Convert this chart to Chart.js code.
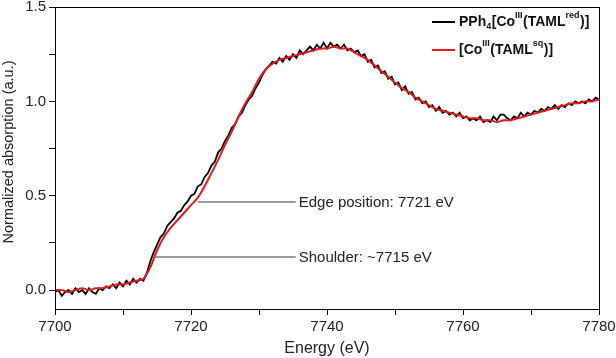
<!DOCTYPE html>
<html>
<head>
<meta charset="utf-8">
<script src="https://cdn.jsdelivr.net/npm/chart.js@4.4.1/dist/chart.umd.min.js"></script>
<style>
  body { margin: 0; background: #fff; }
</style>
</head>
<body>
<canvas id="xanes" width="616" height="358"></canvas>
<script>
// measured spectrum of PPh4[Co(TAMLred)], 0.5 eV grid from 7700 eV
const blackStart = 7700, blackStep = 0.5;
const blackValues = [
  -0.01, 0.00, -0.03, -0.01, 0.00, -0.02, 0.01, -0.01, 0.00, -0.02,
  0.01, -0.01, -0.02, 0.01, 0.00, 0.02, 0.01, 0.03, 0.01, 0.04,
  0.02, 0.05, 0.03, 0.06, 0.04, 0.06, 0.05, 0.09, 0.15, 0.20,
  0.24, 0.28, 0.30, 0.34, 0.36, 0.38, 0.41, 0.42, 0.45, 0.47,
  0.50, 0.51, 0.55, 0.56, 0.60, 0.62, 0.66, 0.68, 0.73, 0.75,
  0.79, 0.82, 0.86, 0.88, 0.92, 0.94, 0.98, 1.01, 1.03, 1.07,
  1.10, 1.14, 1.17, 1.19, 1.21, 1.20, 1.23, 1.21, 1.24, 1.22,
  1.25, 1.23, 1.27, 1.25, 1.27, 1.29, 1.27, 1.30, 1.28, 1.31,
  1.28, 1.31, 1.29, 1.30, 1.28, 1.30, 1.27, 1.28, 1.26, 1.27,
  1.24, 1.25, 1.21, 1.22, 1.18, 1.19, 1.15, 1.16, 1.12, 1.13,
  1.09, 1.10, 1.06, 1.08, 1.04, 1.05, 1.01, 1.02, 0.99, 1.00,
  0.97, 0.98, 0.95, 0.97, 0.94, 0.95, 0.93, 0.94, 0.92, 0.94,
  0.91, 0.92, 0.90, 0.91, 0.90, 0.92, 0.89, 0.90, 0.89, 0.92,
  0.90, 0.93, 0.93, 0.91, 0.90, 0.92, 0.91, 0.94, 0.92, 0.94,
  0.93, 0.95, 0.94, 0.96, 0.95, 0.97, 0.96, 0.98, 0.96, 0.98,
  0.97, 0.99, 0.98, 1.00, 0.99, 1.00, 0.99, 1.01, 1.00, 1.02,
  1.01
];

// [Co(TAMLsq)] spectrum, 1 eV grid from 7700 eV
const redStart = 7700, redStep = 1;
const redValues = [
  0.00, 0.00, -0.01, 0.00, 0.01, 0.00, 0.01, 0.01, 0.02, 0.03,
  0.03, 0.04, 0.05, 0.06, 0.12, 0.21, 0.28, 0.33, 0.37, 0.41,
  0.45, 0.49, 0.55, 0.62, 0.69, 0.77, 0.84, 0.92, 0.99, 1.05,
  1.12, 1.17, 1.20, 1.22, 1.23, 1.24, 1.25, 1.26, 1.27, 1.28,
  1.28, 1.29, 1.28, 1.28, 1.26, 1.24, 1.22, 1.19, 1.16, 1.13,
  1.10, 1.07, 1.05, 1.02, 1.00, 0.98, 0.96, 0.95, 0.94, 0.93,
  0.92, 0.91, 0.91, 0.90, 0.90, 0.89, 0.90, 0.90, 0.91, 0.92,
  0.93, 0.94, 0.95, 0.96, 0.97, 0.98, 0.99, 0.99, 1.00, 1.00,
  1.01
];

const xTicks = [7700, 7710, 7720, 7730, 7740, 7750, 7760, 7770, 7780];
const xTickLabels = ['7700', '', '7720', '', '7740', '', '7760', '', '7780'];
const yTicks = [0, 0.25, 0.5, 0.75, 1.0, 1.25, 1.5];
const yTickLabels = ['0.0', '', '0.5', '', '1.0', '', '1.5'];
const yTitle = 'Normalized absorption (a.u.)';

// annotation leaders: start on the curve, end before the text
const annotTexts = ['Shoulder: ~7715 eV', 'Edge position: 7721 eV'];
const annotStartE = [7714.7, 7721.0];
const annotEndE = [7735.4, 7735.4];
const annotY = [0.175, 0.467];

// legend entries as rich text pieces (sup / sub)
const legendColors = ['#000000', '#e31a1c'];
const legendPieces = [
  [['PPh'], ['4', 'sub'], ['[Co'], ['III', 'sup'], ['(TAML'], ['red', 'sup'], [')]']],
  [['[Co'], ['III', 'sup'], ['(TAML'], ['sq', 'sup'], [')]']]
];

const FONT = '"Liberation Sans", Arial, sans-serif';

function toPoints(start, step, values) {
  return values.map((v, i) => ({ x: start + i * step, y: v }));
}

const extras = {
  id: 'extras',
  afterDraw(chart) {
    const ctx = chart.ctx;
    const a = chart.chartArea;
    const xs = chart.scales.x, ys = chart.scales.y;
    ctx.save();
    // frame (top and right sides)
    ctx.strokeStyle = '#000';
    ctx.lineWidth = 1;
    ctx.strokeRect(a.left + 0.5, a.top + 0.5, a.right - a.left, a.bottom - a.top);

    // y axis title, sits a little below the middle of the axis
    ctx.save();
    ctx.translate(9, (a.top + a.bottom) / 2 - 6);
    ctx.rotate(-Math.PI / 2);
    ctx.fillStyle = '#222';
    ctx.font = '14.5px ' + FONT;
    ctx.textAlign = 'center';
    ctx.textBaseline = 'middle';
    ctx.fillText(yTitle, 0, 0);
    ctx.restore();

    // annotations
    ctx.strokeStyle = '#7a7a7a';
    ctx.lineWidth = 1.5;
    ctx.fillStyle = '#222';
    ctx.font = '15px ' + FONT;
    ctx.textBaseline = 'middle';
    annotTexts.forEach((t, i) => {
      const y = ys.getPixelForValue(annotY[i]);
      const x0 = xs.getPixelForValue(annotStartE[i]);
      const x1 = xs.getPixelForValue(annotEndE[i]);
      ctx.beginPath();
      ctx.moveTo(x0, y);
      ctx.lineTo(x1, y);
      ctx.stroke();
      ctx.fillText(t, x1 + 3, y + 1);
    });

    // legend
    legendPieces.forEach((pieces, r) => {
      const y = a.top + 15 + r * 28;
      const lx = a.right - 167;
      ctx.strokeStyle = legendColors[r];
      ctx.lineWidth = 2;
      ctx.beginPath();
      ctx.moveTo(lx, y);
      ctx.lineTo(lx + 23, y);
      ctx.stroke();
      let x = lx + 27;
      ctx.fillStyle = '#111';
      ctx.textBaseline = 'middle';
      pieces.forEach(([txt, kind]) => {
        let dy = 0;
        if (kind) {
          ctx.font = 'bold 9px ' + FONT;
          dy = kind === 'sup' ? -6 : 5;
        } else {
          ctx.font = 'bold 14px ' + FONT;
        }
        ctx.fillText(txt, x, y + dy);
        x += ctx.measureText(txt).width + (kind ? 0.5 : 0);
      });
    });
    ctx.restore();
  }
};

new Chart(document.getElementById('xanes'), {
  type: 'line',
  data: {
    datasets: [
      {
        label: 'PPh4[CoIII(TAMLred)]',
        data: toPoints(blackStart, blackStep, blackValues),
        borderColor: '#000000',
        borderWidth: 1.8,
        pointRadius: 0,
        tension: 0,
        order: 2
      },
      {
        label: '[CoIII(TAMLsq)]',
        data: toPoints(redStart, redStep, redValues),
        borderColor: '#e31a1c',
        borderWidth: 2,
        pointRadius: 0,
        tension: 0.3,
        order: 1
      }
    ]
  },
  options: {
    responsive: false,
    animation: false,
    layout: { padding: { left: 0, right: 17, top: 7, bottom: 0 } },
    plugins: {
      legend: { display: false },
      tooltip: { enabled: false }
    },
    scales: {
      x: {
        type: 'linear',
        min: 7700,
        max: 7780,
        afterBuildTicks: s => { s.ticks = xTicks.map(v => ({ value: v })); },
        afterFit: s => { s.height = 49; s.paddingLeft = 0; s.paddingRight = 0; },
        ticks: {
          color: '#222',
          font: { family: FONT, size: 15 },
          padding: 3,
          maxRotation: 0,
          autoSkip: false,
          callback: (v, i) => xTickLabels[i]
        },
        grid: { drawOnChartArea: false, tickLength: 6, color: '#000', tickWidth: 1 },
        border: { color: '#000', width: 1 },
        title: {
          display: true,
          text: 'Energy (eV)',
          color: '#222',
          font: { family: FONT, size: 16 },
          padding: { top: 0, bottom: 0 }
        }
      },
      y: {
        min: -0.1,
        max: 1.5,
        afterBuildTicks: s => { s.ticks = yTicks.map(v => ({ value: v })); },
        afterFit: s => { s.width = 55; s.paddingTop = 0; s.paddingBottom = 0; },
        ticks: {
          color: '#222',
          font: { family: FONT, size: 15 },
          padding: 3,
          autoSkip: false,
          callback: (v, i) => yTickLabels[i]
        },
        grid: { drawOnChartArea: false, tickLength: 6, color: '#000', tickWidth: 1 },
        border: { color: '#000', width: 1 },
        title: { display: false }
      }
    }
  },
  plugins: [extras]
});
</script>
</body>
</html>
